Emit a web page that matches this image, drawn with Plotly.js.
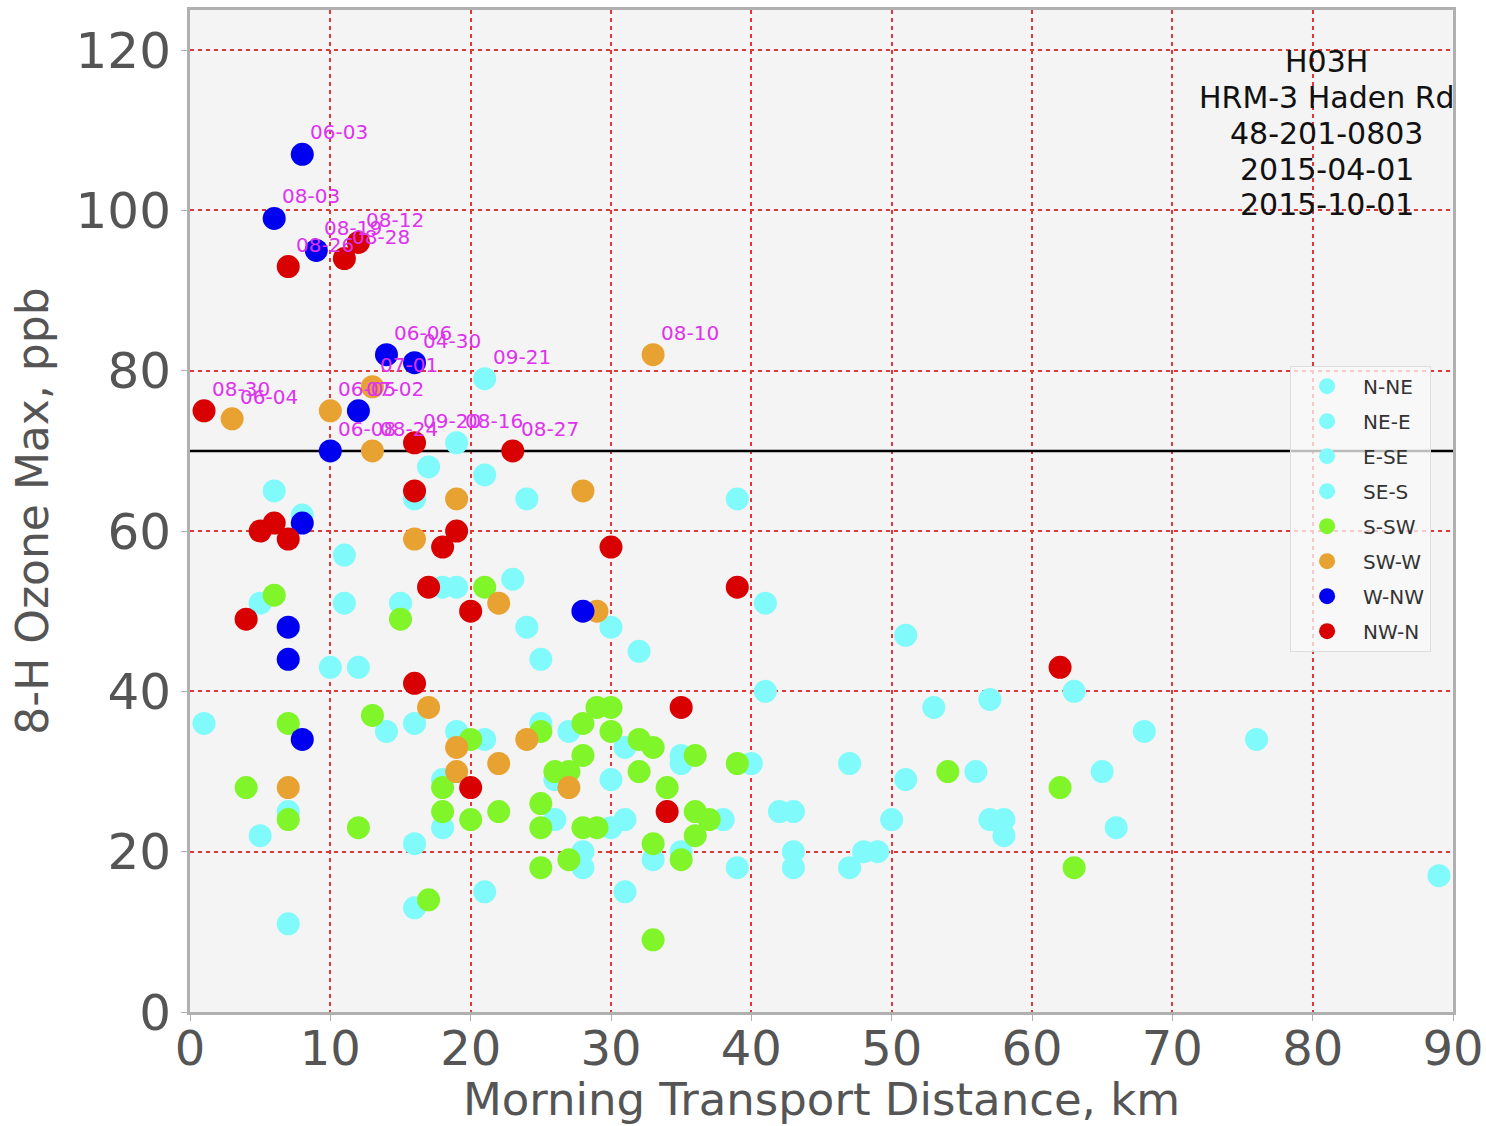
<!DOCTYPE html>
<html>
<head>
<meta charset="utf-8">
<script src="https://cdn.plot.ly/plotly-3.0.1.min.js"></script>
<style>
  html, body { margin: 0; padding: 0; background: #ffffff; }
  #chart { width: 1486px; height: 1126px; }
</style>
</head>
<body>
<div id="chart"></div>
<script>
// ---- Data ----
const seriesNames = ["N-NE", "NE-E", "E-SE", "SE-S", "S-SW", "SW-W", "W-NW", "NW-N"];

const nneX = [1, 5, 7, 7, 5, 6, 8, 10, 11, 11, 12, 14, 15, 16, 16, 16, 16, 17, 18, 19];
const nneY = [36, 22, 11, 25, 51, 65, 62, 43, 57, 51, 43, 35, 51, 36, 21, 13, 64, 68, 53, 53];

const neeX = [19, 21, 21, 23, 24, 24, 25, 30, 32, 39, 41, 19, 18, 18, 21, 21, 25, 26, 26, 27];
const neeY = [71, 79, 67, 54, 64, 48, 44, 48, 45, 64, 51, 35, 29, 23, 34, 15, 36, 24, 29, 35];

const eseX = [28, 28, 30, 31, 31, 30, 31, 33, 35, 35, 38, 39, 40, 41, 42, 43, 35, 51, 53, 57];
const eseY = [20, 18, 29, 33, 24, 23, 15, 19, 32, 31, 24, 18, 31, 40, 25, 25, 20, 47, 38, 39];

const sesX = [63, 68, 76, 47, 51, 56, 65, 50, 57, 58, 58, 66, 43, 43, 47, 48, 49, 89];
const sesY = [40, 35, 34, 31, 29, 30, 30, 24, 24, 24, 22, 23, 20, 18, 18, 20, 20, 17];

const sswX = [6, 15, 21, 7, 4, 7, 12, 13, 17, 18, 18, 20, 20, 22, 25, 25, 25, 25, 26, 27, 27, 28,
              28, 28, 29, 29, 30, 30, 32, 32, 33, 34, 33, 33, 36, 36, 37, 36, 35, 39, 54, 62, 63];
const sswY = [52, 49, 53, 36, 28, 24, 23, 37, 14, 28, 25, 24, 34, 25, 35, 26, 23, 18, 30, 30, 19, 36,
              32, 23, 23, 38, 38, 35, 30, 34, 33, 28, 21, 9, 32, 25, 24, 22, 19, 31, 30, 28, 18];

const swwX = [3, 10, 13, 13, 33, 19, 28, 16, 22, 29, 17, 19, 19, 22, 24, 27, 7];
const swwY = [74, 75, 78, 70, 82, 64, 65, 59, 51, 50, 38, 33, 30, 31, 34, 28, 28];

const wnwX = [8, 6, 9, 14, 16, 12, 10, 8, 28, 7, 7, 8];
const wnwY = [107, 99, 95, 82, 81, 75, 70, 61, 50, 48, 44, 34];

const nwnX = [1, 7, 11, 12, 16, 23, 16, 5, 6, 7, 18, 19, 17, 30, 20, 4, 39, 16, 62, 35, 20, 34];
const nwnY = [75, 93, 94, 96, 71, 70, 65, 60, 61, 59, 58, 60, 53, 58, 50, 49, 53, 41, 43, 38, 28, 25];

// Date labels on days at or above the standard
const labelX = [8, 6, 7, 9, 11, 12, 14, 16, 21, 33, 13, 10, 12, 1, 3, 10, 13, 16, 19, 23];
const labelY = [107, 99, 93, 95, 94, 96, 82, 81, 79, 82, 78, 75, 75, 75, 74, 70, 70, 71, 71, 70];
const labelText = ["06-03", "08-03", "08-26", "08-19", "08-28", "08-12", "06-06", "04-30", "09-21", "08-10",
                   "07-01", "06-05", "07-02", "08-30", "06-04", "06-08", "08-24", "09-20", "08-16", "08-27"];

const standardX = [0, 90];
const standardY = [70, 70];

const infoLines = ["H03H", "HRM-3 Haden Rd", "48-201-0803", "2015-04-01", "2015-10-01"];

const xTicks = [0, 10, 20, 30, 40, 50, 60, 70, 80, 90];
const yTicks = [0, 20, 40, 60, 80, 100, 120];

// ---- Styles ----
const cyan = "#80fafa";
const colors = [cyan, cyan, cyan, cyan, "#80f52a", "#e8a232", "#0000f0", "#d80000"];
const xs = [nneX, neeX, eseX, sesX, sswX, swwX, wnwX, nwnX];
const ys = [nneY, neeY, eseY, sesY, sswY, swwY, wnwY, nwnY];

const font = "DejaVu Sans, Verdana, sans-serif";

const traces = [];
traces.push({
  x: standardX, y: standardY, mode: "lines", type: "scatter",
  line: { color: "#000000", width: 2.5 }, showlegend: false, hoverinfo: "skip"
});
for (let i = 0; i < seriesNames.length; i++) {
  traces.push({
    x: xs[i], y: ys[i], name: seriesNames[i], type: "scatter", mode: "markers",
    legendgroup: "g" + i,
    marker: { color: colors[i], size: 23, line: { width: 0 } }
  });
}

const annotations = [];
for (let i = 0; i < labelText.length; i++) {
  annotations.push({
    x: labelX[i], y: labelY[i], xref: "x", yref: "y", text: labelText[i],
    showarrow: false, xanchor: "left", yanchor: "middle", xshift: 6, yshift: 22,
    font: { family: font, size: 20, color: "#dd33ee" }
  });
}
for (let i = 0; i < infoLines.length; i++) {
  annotations.push({
    x: 0.900, y: 0.949 - i * 0.0359, xref: "paper", yref: "paper", text: infoLines[i],
    showarrow: false, xanchor: "center", yanchor: "middle",
    font: { family: font, size: 30, color: "#111111" }
  });
}

const gridStyle = { showgrid: true, gridcolor: "#e03838", gridwidth: 2, griddash: "4px,4px" };

const layout = {
  width: 1486, height: 1126,
  margin: { l: 190, r: 33, t: 10, b: 114 },
  paper_bgcolor: "#ffffff",
  plot_bgcolor: "#f4f4f4",
  font: { family: font, color: "#555555" },
  showlegend: true,
  legend: {
    x: 0.871, y: 0.645, xanchor: "left", yanchor: "top",
    bgcolor: "rgba(250,250,250,0.75)", bordercolor: "#dddddd", borderwidth: 1,
    font: { family: font, size: 20, color: "#333333" },
    tracegroupgap: 6, itemsizing: "trace", itemwidth: 62
  },
  xaxis: Object.assign({
    range: [0, 90], tickvals: xTicks, ticktext: xTicks.map(String),
    zeroline: false, showline: true, mirror: true, linecolor: "#b0b0b0", linewidth: 3,
    ticks: "outside", ticklen: 6, tickcolor: "#b0b0b0", ticklabelstandoff: -14,
    tickfont: { family: font, size: 48, color: "#555555" },
    title: { text: "Morning Transport Distance, km", font: { family: font, size: 45, color: "#555555" }, standoff: 6 }
  }, gridStyle),
  yaxis: Object.assign({
    range: [0, 125], tickvals: yTicks, ticktext: yTicks.map(String),
    zeroline: false, showline: true, mirror: true, linecolor: "#b0b0b0", linewidth: 3,
    ticks: "outside", ticklen: 6, tickcolor: "#b0b0b0",
    tickfont: { family: font, size: 50, color: "#555555" },
    title: { text: "8-H Ozone Max, ppb", font: { family: font, size: 44, color: "#555555" }, standoff: 14 }
  }, gridStyle),
  annotations: annotations
};

Plotly.newPlot("chart", traces, layout, { displayModeBar: false, staticPlot: true });
</script>
</body>
</html>
